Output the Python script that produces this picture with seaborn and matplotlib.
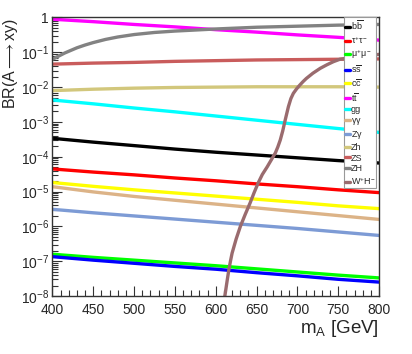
import numpy as np
import pandas as pd
import matplotlib
matplotlib.use("Agg")
import matplotlib.pyplot as plt
import matplotlib.ticker as mticker
import seaborn as sns

# branching ratios of A -> xy (log10 values)
channels = ["bb", "tautau", "mumu", "ss", "cc", "tt", "gg", "gamgam",
            "Zgam", "Zh", "ZS", "ZH", "WH"]
labels = [r"$\mathrm{b\overline{b}}$", r"$\tau^{+}\tau^{-}$", r"$\mu^{+}\mu^{-}$",
          r"$\mathrm{s\overline{s}}$", r"$\mathrm{c\overline{c}}$", r"$\mathrm{t\overline{t}}$",
          "gg", r"$\gamma\gamma$", r"Z$\gamma$", "Zh", "ZS", "ZH", r"W$^{+}$H$^{-}$"]
colors = ["#000000", "#ff0000", "#00ff00", "#0000ff", "#ffff00", "#ff00ff",
          "#00ffff", "#dcb387", "#7d9bd5", "#d2c77c", "#c95c5c", "#828282", "#9a6b6e"]

mass = [400, 450, 500, 550, 600, 650, 700, 750, 800]
log_bb = [-3.47, -3.58, -3.68, -3.78, -3.87, -3.95, -4.03, -4.11, -4.18]
log_tautau = [-4.35, -4.44, -4.52, -4.61, -4.69, -4.78, -4.86, -4.95, -5.03]
log_mumu = [-6.80, -6.89, -6.97, -7.05, -7.13, -7.22, -7.31, -7.40, -7.48]
log_ss = [-6.87, -6.97, -7.06, -7.15, -7.23, -7.33, -7.42, -7.52, -7.60]
log_cc = [-4.74, -4.85, -4.95, -5.04, -5.13, -5.22, -5.31, -5.41, -5.49]
log_tt = [-0.05, -0.12, -0.20, -0.27, -0.35, -0.42, -0.50, -0.57, -0.65]
log_gg = [-2.37, -2.48, -2.60, -2.71, -2.83, -2.95, -3.07, -3.19, -3.30]
log_gamgam = [-4.86, -5.01, -5.14, -5.25, -5.36, -5.47, -5.58, -5.69, -5.80]
log_Zgam = [-5.51, -5.61, -5.70, -5.79, -5.88, -5.97, -6.06, -6.16, -6.26]
log_Zh = [-2.10, -2.06, -2.03, -2.01, -2.00, -1.99, -1.99, -1.99, -2.00]
log_ZS = [-1.34, -1.31, -1.29, -1.26, -1.24, -1.22, -1.21, -1.20, -1.19]
mass_ZH = [400, 405, 410, 415, 420, 430, 440, 450, 465, 480, 500, 525, 550,
           575, 600, 650, 700, 750, 800]
log_ZH = [-1.20, -1.14, -1.08, -1.02, -0.97, -0.87, -0.79, -0.72, -0.63,
          -0.56, -0.49, -0.43, -0.39, -0.36, -0.33, -0.28, -0.25, -0.22, -0.20]
mass_WH = [608, 611, 614, 616, 618, 620, 625, 630, 636, 642, 647, 652, 657,
           663, 668, 673, 676, 679, 682, 685, 689, 692, 695, 699, 703, 707,
           711, 719, 728, 736, 744, 752, 763, 775, 788, 800]
log_WH = [-8.5, -8.02, -7.55, -7.25, -7.00, -6.77, -6.36, -6.01, -5.66, -5.33,
          -5.03, -4.75, -4.51, -4.29, -4.09, -3.89, -3.72, -3.52, -3.26, -2.95,
          -2.56, -2.33, -2.18, -2.05, -1.94, -1.84, -1.75, -1.60, -1.46, -1.36,
          -1.27, -1.20, -1.16, -1.12, -1.09, -1.06]

series = {"bb": log_bb, "tautau": log_tautau, "mumu": log_mumu, "ss": log_ss,
          "cc": log_cc, "tt": log_tt, "gg": log_gg, "gamgam": log_gamgam,
          "Zgam": log_Zgam, "Zh": log_Zh, "ZS": log_ZS}

rows = []
for ch, vals in series.items():
    for m, v in zip(mass, vals):
        rows.append((ch, m, 10 ** v))
for m, v in zip(mass_ZH, log_ZH):
    rows.append(("ZH", m, 10 ** v))
for m, v in zip(mass_WH, log_WH):
    rows.append(("WH", m, 10 ** v))
df = pd.DataFrame(rows, columns=["channel", "mA", "BR"])

sns.set_style("ticks")
plt.rcParams["font.family"] = ["Liberation Sans", "DejaVu Sans"]
plt.rcParams["mathtext.fontset"] = "custom"
plt.rcParams["mathtext.rm"] = "Liberation Sans"
plt.rcParams["mathtext.it"] = "Liberation Sans"
plt.rcParams["mathtext.sf"] = "Liberation Sans"
plt.rcParams["mathtext.bf"] = "Liberation Sans:bold"

fig, ax = plt.subplots(figsize=(4.12, 3.54), dpi=100)
fig.subplots_adjust(left=0.1274, right=0.920, top=0.9506, bottom=0.1638)

sns.lineplot(data=df, x="mA", y="BR", hue="channel", hue_order=channels,
             palette=dict(zip(channels, colors)), estimator=None, sort=True,
             linewidth=2.4, ax=ax, legend=False)

ax.set_yscale("log")
ax.set_xlim(400, 800)
ax.set_ylim(1e-8, 1)

ax.xaxis.set_major_locator(mticker.MultipleLocator(50))
ax.xaxis.set_minor_locator(mticker.MultipleLocator(10))
ax.yaxis.set_major_locator(mticker.LogLocator(base=10, numticks=12))
ax.yaxis.set_minor_locator(mticker.LogLocator(base=10, subs=np.arange(2, 10), numticks=12))
ax.yaxis.set_minor_formatter(mticker.NullFormatter())


def fmt(v, pos):
    e = int(round(np.log10(v)))
    return "1" if e == 0 else r"$10^{%d}$" % e


ax.yaxis.set_major_formatter(mticker.FuncFormatter(fmt))
ax.tick_params(which="both", direction="in", top=False, right=False,
               labelsize=10, color="#333333")
ax.tick_params(which="major", length=7, width=0.8)
ax.tick_params(which="minor", length=4, width=0.8)
ax.tick_params(axis="x", which="major", pad=5)
ax.tick_params(axis="y", which="major", pad=2.5)
for s in ax.spines.values():
    s.set_color("#333333")
    s.set_linewidth(1.0)

ax.set_xlabel(r"m$_{A}$ [GeV]", fontsize=13.5, loc="right", labelpad=1)
ax.set_ylabel(r"BR(A$\longrightarrow$xy)", fontsize=11.5, loc="top")
ax.yaxis.set_label_coords(-0.099, 1.0)

handles = [plt.Line2D([], [], color=c, lw=2.4) for c in colors]
leg = ax.legend(handles, labels, loc="upper right", bbox_to_anchor=(0.992, 1.0),
                fontsize=6.5, handlelength=0.45, handletextpad=0.15,
                labelspacing=0.2, borderpad=0.12, borderaxespad=0,
                frameon=True, fancybox=False, framealpha=1, edgecolor="#999999")
leg.get_frame().set_linewidth(0.8)

fig.savefig("out.png", dpi=100)
